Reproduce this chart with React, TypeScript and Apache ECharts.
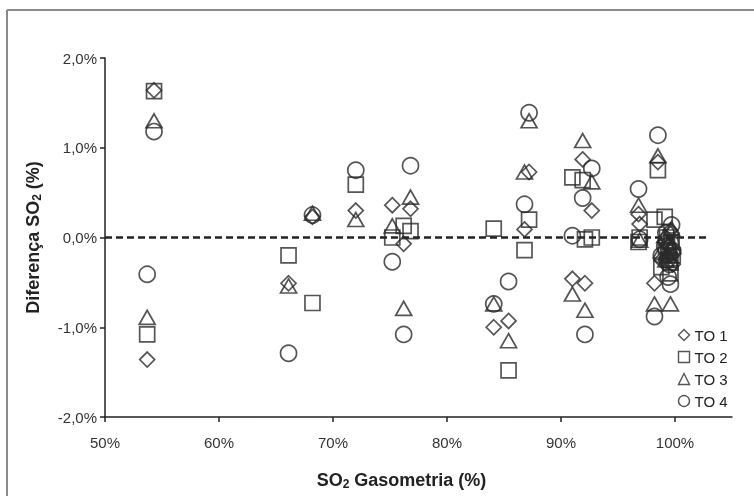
import React, { useEffect, useRef } from "react";
import * as echarts from "echarts";

// SO2 gasometria (%) per patient — x position
const gasometria = [
  53.7, 54.3, 66.1, 68.2, 72.0, 75.2, 76.2, 76.8, 84.1, 85.4, 86.8, 87.2, 91.0, 91.9, 92.1, 92.7,
  96.8, 96.9, 98.5, 98.2, 99.1, 99.6, 99.7, 98.8, 99.4, 99.5, 99.2, 99.8, 99.3, 99.6,
];
// Diferença SO2 (%) for each TO
const to1 = [
  -1.36, 1.64, -0.51, 0.23, 0.3, 0.36, -0.07, 0.32, -1.0, -0.93, 0.09, 0.73, -0.46, 0.87, -0.51, 0.3,
  0.26, 0.15, 0.84, -0.51, -0.05, -0.2, 0.05, -0.25, -0.1, -0.15, 0.0, -0.3, -0.22, 0.08,
];
const to2 = [
  -1.08, 1.63, -0.2, -0.73, 0.59, 0.0, 0.13, 0.07, 0.1, -1.48, -0.14, 0.2, 0.67, 0.64, -0.02, 0.0,
  -0.05, 0.0, 0.75, 0.2, 0.23, -0.4, -0.05, -0.33, -0.15, -0.25, -0.1, -0.2, 0.0, -0.28,
];
const to3 = [
  -0.89, 1.3, -0.54, 0.27, 0.2, 0.13, -0.79, 0.45, -0.74, -1.15, 0.73, 1.3, -0.63, 1.08, -0.81, 0.62,
  0.36, -0.03, 0.91, -0.74, 0.02, -0.74, 0.1, -0.15, -0.2, -0.05, -0.25, -0.1, -0.18, -0.12,
];
const to4 = [
  -0.41, 1.18, -1.29, 0.25, 0.75, -0.27, -1.08, 0.8, -0.74, -0.49, 0.37, 1.39, 0.02, 0.44, -1.08, 0.77,
  0.54, -0.02, 1.14, -0.88, -0.1, -0.52, 0.14, -0.2, -0.44, -0.3, 0.05, -0.15, -0.25, -0.06,
];
const seriesNames = ["TO 1", "TO 2", "TO 3", "TO 4"];
const xTicks = [50, 60, 70, 80, 90, 100];
const zeroLineX = [50, 102.8];

const FONT = "Liberation Sans, Arial, sans-serif";

export default function App() {
  const ref = useRef<HTMLDivElement>(null);
  useEffect(() => {
    document.body.style.margin = "0";
    const chart = echarts.init(ref.current!, null, { renderer: "svg" });
    const symbols = ["diamond", "rect", "triangle", "circle"];
    const sizes: any[] = [15, 15, [16, 14], 16];
    const all = [to1, to2, to3, to4];
    const markerStyle = { color: "none", borderColor: "#2a2a2a", borderWidth: 1.7 };
    const scatter = all.map((vals, i) => ({
      name: seriesNames[i],
      type: "scatter",
      symbol: symbols[i],
      symbolSize: sizes[i],
      itemStyle: markerStyle,
      data: gasometria.map((x, j) => [x, vals[j]]),
      z: 3,
    }));
    const nameStyle = {
      fontFamily: FONT,
      fontSize: 18,
      fontWeight: "bold",
      color: "#222",
      rich: { sub: { fontFamily: FONT, fontSize: 12, fontWeight: "bold", color: "#222", padding: [9, 0, 0, 0] } },
    };
    chart.setOption({
      animation: false,
      textStyle: { fontFamily: FONT },
      grid: { left: 105, top: 58, right: 22, bottom: 79 },
      graphic: [
        { type: "line", shape: { x1: 7, y1: 10, x2: 754, y2: 10 }, style: { stroke: "#8a8a8a", lineWidth: 2 } },
        { type: "line", shape: { x1: 7, y1: 10, x2: 7, y2: 496 }, style: { stroke: "#8a8a8a", lineWidth: 2 } },
      ],
      legend: {
        orient: "vertical",
        left: 671,
        top: 322,
        itemWidth: 11,
        itemHeight: 11,
        itemGap: 6,
        textStyle: { fontFamily: FONT, fontSize: 15, color: "#222", lineHeight: 16 },
        data: seriesNames.map((n, i) => ({
          name: n,
          icon: symbols[i],
          itemStyle: { color: "none", borderColor: "#2a2a2a", borderWidth: 1.4 },
        })),
      },
      xAxis: {
        type: "value",
        min: 50,
        max: 105,
        interval: 10,
        name: "SO{sub|2} Gasometria (%)",
        nameLocation: "middle",
        nameGap: 52,
        nameTextStyle: { ...nameStyle, padding: [0, 34, 0, 0] },
        splitLine: { show: false },
        axisLine: { onZero: false, lineStyle: { color: "#222", width: 1.5 } },
        axisTick: { show: true, customValues: xTicks, length: 5, lineStyle: { color: "#222", width: 1.5 } },
        axisLabel: {
          customValues: xTicks,
          margin: 18,
          fontFamily: FONT,
          fontSize: 15,
          color: "#333",
          formatter: (v: number) => `${v}%`,
        },
      },
      yAxis: {
        type: "value",
        min: -2,
        max: 2,
        interval: 1,
        name: "Diferença SO{sub|2} (%)",
        nameLocation: "middle",
        nameGap: 62,
        nameRotate: 90,
        nameTextStyle: nameStyle,
        splitLine: { show: false },
        axisLine: { show: true, onZero: false, lineStyle: { color: "#222", width: 1.5 } },
        axisTick: { show: true, length: 5, lineStyle: { color: "#222", width: 1.5 } },
        axisLabel: {
          margin: 8,
          fontFamily: FONT,
          fontSize: 15,
          color: "#333",
          formatter: (v: number) => `${v.toFixed(1).replace(".", ",")}%`,
        },
      },
      series: [
        {
          name: "zero",
          type: "line",
          data: zeroLineX.map((x) => [x, 0]),
          symbol: "none",
          lineStyle: { color: "#222", width: 2.5, type: [7, 4] },
          silent: true,
          z: 2,
        },
        ...scatter,
      ],
    });
    return () => chart.dispose();
  }, []);
  return <div ref={ref} style={{ position: "fixed", left: 0, top: 0, width: 754, height: 496 }} />;
}
